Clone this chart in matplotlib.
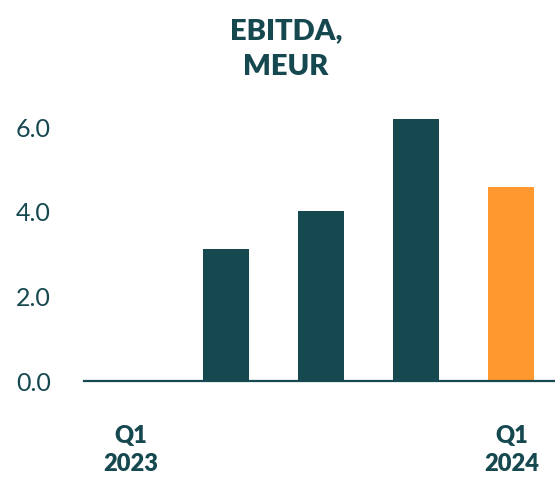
import numpy as np
import matplotlib.pyplot as plt

# Data
quarters = ['Q1\n2023', '', '', '', 'Q1\n2024']
ebitda = [0.02, 3.12, 4.02, 6.18, 4.58]
colors = ['#164850', '#164850', '#164850', '#164850', '#ff982f']
yticks = [0.0, 2.0, 4.0, 6.0]

teal = '#164850'

fig = plt.figure(figsize=(5.55, 4.82), dpi=100)
ax = fig.add_axes([0.1514, 0.2095, 0.8486, 0.5709])

x = np.arange(len(ebitda))
ax.bar(x, ebitda, width=0.48, color=colors)

ax.set_xlim(-0.495, 4.46)
ax.set_ylim(0, 6.5)
ax.set_yticks(yticks)
ax.set_yticklabels([f'{v:.1f}' for v in yticks], fontsize=18, color=teal, family='Lato')
ax.tick_params(axis='y', length=0, pad=24)
ax.set_xticks(x)
ax.set_xticklabels(quarters, fontsize=17, fontweight='heavy', color=teal,
                   family='Lato', linespacing=1.3)
ax.tick_params(axis='x', length=0, pad=32)

for s in ['top', 'right', 'left']:
    ax.spines[s].set_visible(False)
ax.spines['bottom'].set_color(teal)
ax.spines['bottom'].set_linewidth(1.6)

fig.text(0.515, 0.962, 'EBITDA,\nMEUR', ha='center', va='top', fontsize=21,
         fontweight='heavy', color=teal, family='Lato', linespacing=1.45)

fig.savefig('out.png', dpi=100)
